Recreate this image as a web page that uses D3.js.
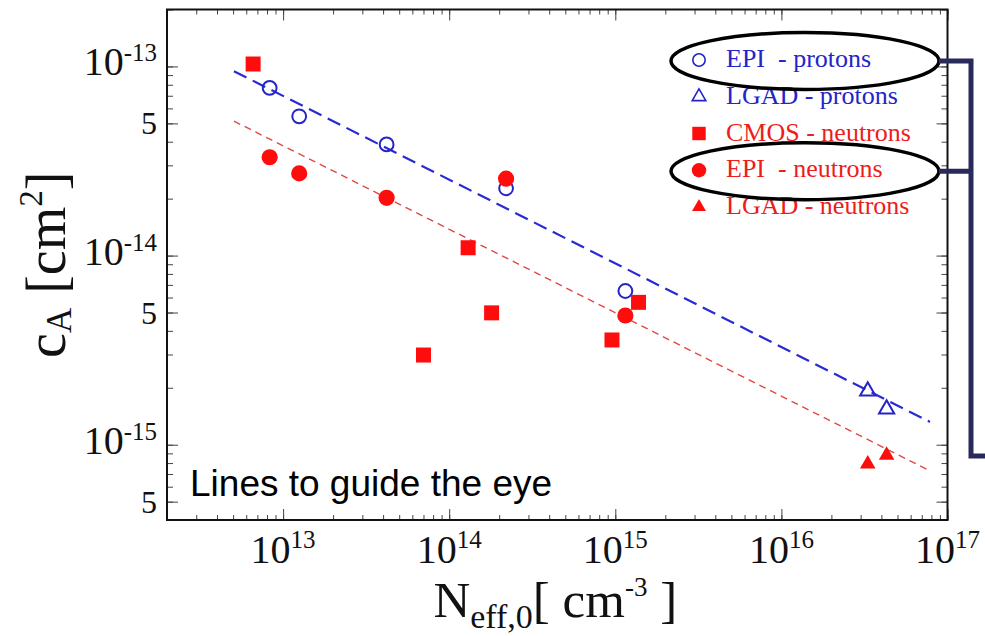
<!DOCTYPE html>
<html>
<head>
<meta charset="utf-8">
<script src="https://cdn.jsdelivr.net/npm/d3@7"></script>
<style>
  html, body { margin: 0; padding: 0; background: #fff; }
  svg { display: block; }
</style>
</head>
<body>
<svg id="chart" width="985" height="636"></svg>
<script>
// ---- data: acceptor removal coefficient c_A vs initial doping N_eff,0 ----
const epiProtonsN   = [8.3e12, 1.25e13, 4.2e13, 2.2e14, 1.15e15];
const epiProtonsC   = [7.7e-14, 5.45e-14, 3.87e-14, 2.27e-14, 6.5e-15];

const lgadProtonsN  = [3.31e16, 4.3e16];
const lgadProtonsC  = [1.92e-15, 1.545e-15];

const cmosNeutronsN = [6.6e12, 7.0e13, 1.3e14, 1.8e14, 9.55e14, 1.38e15];
const cmosNeutronsC = [1.03e-13, 2.98e-15, 1.1e-14, 4.98e-15, 3.58e-15, 5.66e-15];

const epiNeutronsN  = [8.3e12, 1.25e13, 4.2e13, 2.2e14, 1.15e15];
const epiNeutronsC  = [3.31e-14, 2.72e-14, 2.02e-14, 2.55e-14, 4.82e-15];

const lgadNeutronsN = [3.31e16, 4.3e16];
const lgadNeutronsC = [7.9e-16, 8.8e-16];

// guide lines (end points in data units)
const protonGuideN  = [5.06e12, 7.84e16];
const protonGuideC  = [9.44e-14, 1.32e-15];
const neutronGuideN = [5.06e12, 7.84e16];
const neutronGuideC = [5.14e-14, 7.28e-16];

// axes
const xDomain = [2e12, 1e17];
const yDomain = [4e-16, 2e-13];
const xMajorTicks  = [1e13, 1e14, 1e15, 1e16, 1e17];
const xTickLabels  = ["10^13", "10^14", "10^15", "10^16", "10^17"];
const yMajorTicks  = [1e-13, 5e-14, 1e-14, 5e-15, 1e-15, 5e-16];
const yTickLabels  = ["10^-13", "5", "10^-14", "5", "10^-15", "5"];

// legend
const legendLabels = ["EPI  - protons", "LGAD - protons", "CMOS - neutrons", "EPI  - neutrons", "LGAD - neutrons"];
const legendKinds  = ["openCircle", "openTriangle", "square", "circle", "triangle"];
const legendColors = ["#2424c8", "#2424c8", "#ee1c1c", "#ee1c1c", "#ee1c1c"];
const legendCircled = [0, 3];

// ---- layout ----
const W = 985, H = 636;
const margin = { left: 167, right: 37.5, top: 9.5, bottom: 116 };
const x = d3.scaleLog().domain(xDomain).range([margin.left, W - margin.right]);
const y = d3.scaleLog().domain(yDomain).range([H - margin.bottom, margin.top]);
const x0 = x.range()[0], x1 = x.range()[1], y0 = y.range()[0], y1 = y.range()[1];

const svg = d3.select("#chart");
svg.append("rect").attr("width", W).attr("height", H).attr("fill", "#fff");

const serif = "'Liberation Serif', 'Times New Roman', serif";
const BLUE = "#2424c8", RED = "#ff0d0d";

// ---- ticks (inside, on all four sides) ----
function styleAxis(g) {
  g.select(".domain").remove();
  g.selectAll(".tick line").attr("stroke", "#444").attr("stroke-width", 1);
}
const xMinor = x.ticks();
const yMinor = y.ticks();
svg.append("g").attr("transform", `translate(0,${y0})`)
  .call(d3.axisBottom(x).tickValues(xMinor).tickSize(-5).tickFormat("")).call(styleAxis);
svg.append("g").attr("transform", `translate(0,${y0})`)
  .call(d3.axisBottom(x).tickValues(xMajorTicks).tickSize(-11).tickFormat("")).call(styleAxis);
svg.append("g").attr("transform", `translate(0,${y1})`)
  .call(d3.axisTop(x).tickValues(xMinor).tickSize(-5).tickFormat("")).call(styleAxis);
svg.append("g").attr("transform", `translate(0,${y1})`)
  .call(d3.axisTop(x).tickValues(xMajorTicks).tickSize(-11).tickFormat("")).call(styleAxis);
svg.append("g").attr("transform", `translate(${x0},0)`)
  .call(d3.axisLeft(y).tickValues(yMinor).tickSize(-6).tickFormat("")).call(styleAxis);
svg.append("g").attr("transform", `translate(${x0},0)`)
  .call(d3.axisLeft(y).tickValues(yMajorTicks).tickSize(-11).tickFormat("")).call(styleAxis);
svg.append("g").attr("transform", `translate(${x1},0)`)
  .call(d3.axisRight(y).tickValues(yMinor).tickSize(-6).tickFormat("")).call(styleAxis);
svg.append("g").attr("transform", `translate(${x1},0)`)
  .call(d3.axisRight(y).tickValues(yMajorTicks).tickSize(-11).tickFormat("")).call(styleAxis);

// frame
svg.append("rect")
  .attr("x", x0).attr("y", y1).attr("width", x1 - x0).attr("height", y0 - y1)
  .attr("fill", "none").attr("stroke", "#111").attr("stroke-width", 2);

// ---- tick labels ----
function powerLabel(sel, label, bigSize, supSize, supShift) {
  const parts = label.split("^");
  sel.append("tspan").text(parts[0]).attr("font-size", bigSize);
  if (parts[1]) sel.append("tspan").text(parts[1]).attr("font-size", supSize).attr("dy", -supShift);
}
const xl = svg.append("g").attr("font-family", serif).attr("fill", "#111");
xMajorTicks.forEach((v, i) => {
  const t = xl.append("text").attr("x", x(v)).attr("y", y0 + 43).attr("text-anchor", "middle");
  powerLabel(t, xTickLabels[i], 40, 25, 15);
});
const yl = svg.append("g").attr("font-family", serif).attr("fill", "#111");
yMajorTicks.forEach((v, i) => {
  const lab = yTickLabels[i];
  const isPow = lab.includes("^");
  const t = yl.append("text").attr("x", x0 - 10).attr("y", y(v) + (isPow ? 9 : 11)).attr("text-anchor", "end");
  if (isPow) powerLabel(t, lab, 40, 25, 14);
  else t.append("tspan").text(lab).attr("font-size", 32);
});

// ---- axis titles ----
const xt = svg.append("text").attr("font-family", serif).attr("fill", "#111")
  .attr("x", (x0 + x1) / 2 - 2).attr("y", 617).attr("text-anchor", "middle");
xt.append("tspan").text("N").attr("font-size", 51);
xt.append("tspan").text("eff,0").attr("font-size", 34).attr("dy", 11);
xt.append("tspan").text("[ cm").attr("font-size", 51).attr("dy", -11);
xt.append("tspan").text("-3").attr("font-size", 27).attr("dy", -21);
xt.append("tspan").text(" ]").attr("font-size", 51).attr("dy", 21);

const yt = svg.append("text").attr("font-family", serif).attr("fill", "#111")
  .attr("transform", `translate(65,${(y0 + y1) / 2}) rotate(-90)`).attr("text-anchor", "middle");
yt.append("tspan").text("c").attr("font-size", 56);
yt.append("tspan").text("A").attr("font-size", 35).attr("dy", 6);
yt.append("tspan").text(" [cm").attr("font-size", 56).attr("dy", -6);
yt.append("tspan").text("2").attr("font-size", 33).attr("dy", -23);
yt.append("tspan").text("]").attr("font-size", 56).attr("dy", 23);

// ---- guide lines ----
const line = d3.line().x(d => x(d[0])).y(d => y(d[1]));
svg.append("path")
  .datum(d3.zip(neutronGuideN, neutronGuideC))
  .attr("d", line).attr("fill", "none")
  .attr("stroke", "#e04848").attr("stroke-width", 1.4).attr("stroke-dasharray", "7,5");
svg.append("path")
  .datum(d3.zip(protonGuideN, protonGuideC))
  .attr("d", line).attr("fill", "none")
  .attr("stroke", "#2a2ad2").attr("stroke-width", 2.2).attr("stroke-dasharray", "14,7");

// ---- markers ----
const shapes = {
  openCircle:   { type: d3.symbolCircle,   size: 150, fill: "none", stroke: BLUE, sw: 2 },
  openTriangle: { type: d3.symbolTriangle, size: 100, fill: "none", stroke: BLUE, sw: 2 },
  square:       { type: d3.symbolSquare,   size: 225, fill: RED,    stroke: "none", sw: 0 },
  circle:       { type: d3.symbolCircle,   size: 205, fill: RED,    stroke: "none", sw: 0 },
  triangle:     { type: d3.symbolTriangle, size: 105, fill: RED,    stroke: "none", sw: 0 }
};
function drawSeries(xs, ys, kind) {
  const s = shapes[kind];
  svg.append("g").selectAll("path").data(d3.zip(xs, ys)).join("path")
    .attr("transform", d => `translate(${x(d[0])},${y(d[1])})`)
    .attr("d", d3.symbol().type(s.type).size(s.size)())
    .attr("fill", s.fill).attr("stroke", s.stroke).attr("stroke-width", s.sw);
}
drawSeries(epiProtonsN, epiProtonsC, "openCircle");
drawSeries(lgadProtonsN, lgadProtonsC, "openTriangle");
drawSeries(cmosNeutronsN, cmosNeutronsC, "square");
drawSeries(epiNeutronsN, epiNeutronsC, "circle");
drawSeries(lgadNeutronsN, lgadNeutronsC, "triangle");

// ---- legend ----
const legRowY = d3.scalePoint().domain(d3.range(legendLabels.length)).range([60, 207]);
const lg = svg.append("g");
legendLabels.forEach((lab, i) => {
  const s = shapes[legendKinds[i]];
  const cy = legRowY(i);
  lg.append("path")
    .attr("transform", `translate(699,${cy})`)
    .attr("d", d3.symbol().type(s.type).size(s.size * 0.8)())
    .attr("fill", s.fill).attr("stroke", s.stroke).attr("stroke-width", s.sw ? 1.6 : 0);
  lg.append("text").attr("x", 726).attr("y", cy + 7)
    .attr("font-family", serif).attr("font-size", 26).attr("fill", legendColors[i])
    .attr("xml:space", "preserve").style("white-space", "pre")
    .text(lab);
});

// highlight ovals and bracket connecting the two EPI entries
const ovals = legendCircled.map(i => ({ cx: 805, cy: legRowY(i) + 1, rx: 134, ry: 28.5 }));
svg.append("g").selectAll("ellipse").data(ovals).join("ellipse")
  .attr("cx", d => d.cx).attr("cy", d => d.cy).attr("rx", d => d.rx).attr("ry", d => d.ry)
  .attr("fill", "none").attr("stroke", "#000").attr("stroke-width", 3.5);

const bx = 971;
const bracket = d3.path();
bracket.moveTo(ovals[0].cx + ovals[0].rx, ovals[0].cy);
bracket.lineTo(bx, ovals[0].cy);
bracket.lineTo(bx, 456);
bracket.lineTo(W + 5, 456);
bracket.moveTo(ovals[1].cx + ovals[1].rx, ovals[1].cy);
bracket.lineTo(bx, ovals[1].cy);
svg.append("path").attr("d", bracket.toString())
  .attr("fill", "none").attr("stroke", "#282a5c").attr("stroke-width", 5);

// annotation
svg.append("text").attr("x", 190).attr("y", 496)
  .attr("font-family", "'Liberation Sans', Arial, sans-serif").attr("font-size", 37).attr("fill", "#000")
  .text("Lines to guide the eye");
</script>
</body>
</html>
